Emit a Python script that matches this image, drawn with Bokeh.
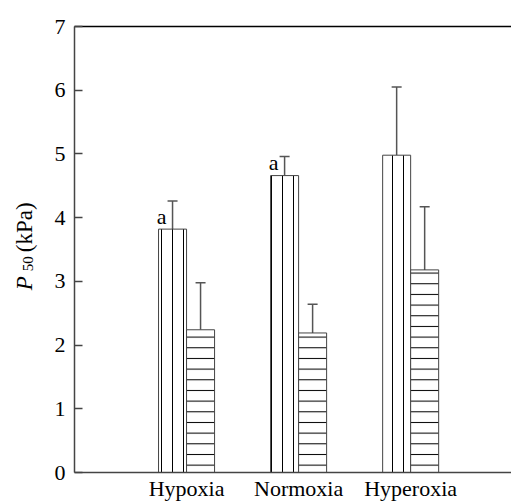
import numpy as np
from bokeh.plotting import figure
from bokeh.layouts import row
from bokeh.models import (ColumnDataSource, Range1d, FixedTicker, LinearAxis,
                          Whisker, TeeHead)
from bokeh.core.properties import value
from bokeh.embed import file_html
from bokeh.resources import INLINE

# ---- data ----
groups = ["Hypoxia", "Normoxia", "Hyperoxia"]
vert_vals = [3.82, 4.66, 4.98]      # vertically hatched bars
vert_err = [0.44, 0.30, 1.07]
horz_vals = [2.24, 2.19, 3.18]      # horizontally hatched bars
horz_err = [0.74, 0.45, 0.99]
sig_labels = ["a", "a", ""]
y_ticks = [0, 1, 2, 3, 4, 5, 6, 7]
y_title = ["P", "50", "(kPa)"]

FONT = "Liberation Serif"
pos = np.arange(1, len(groups) + 1)
bw = 0.25

src_v = ColumnDataSource(dict(
    left=pos - bw, right=pos, top=vert_vals, x=pos - bw / 2,
    upper=np.array(vert_vals) + np.array(vert_err), lower=vert_vals,
    lab=sig_labels))
src_h = ColumnDataSource(dict(
    left=pos, right=pos + bw, top=horz_vals, x=pos + bw / 2,
    upper=np.array(horz_vals) + np.array(horz_err), lower=horz_vals))

# ---- narrow panel carrying the y-axis title (pixel coordinates) ----
LW = 45
t = figure(width=LW, height=503, output_backend="svg", toolbar_location=None,
           x_range=Range1d(0, LW), y_range=Range1d(503, 0),
           x_axis_location=None, y_axis_location=None,
           min_border=0)
t.outline_line_color = None
t.grid.visible = False
t.border_fill_color = "white"
t.background_fill_color = "white"
BX = 30.7
t.text(x=[BX], y=[297.5], text=[y_title[0]], angle=np.pi / 2,
       x_offset=-7, text_font=value(FONT), text_font_style="italic",
       text_font_size=value("23px"), text_baseline="alphabetic",
       text_align="left", text_color="black")
t.text(x=[BX + 1], y=[276], text=[y_title[1]], angle=np.pi / 2,
       x_offset=-4.5, text_font=value(FONT),
       text_font_size=value("15px"), text_baseline="alphabetic",
       text_align="left", text_color="black")
t.text(x=[BX], y=[254.5], text=[y_title[2]], angle=np.pi / 2,
       x_offset=-7, text_font=value(FONT),
       text_font_size=value("23px"), text_baseline="alphabetic",
       text_align="left", text_color="black")

# ---- main chart ----
p = figure(width=511 - LW, height=503, output_backend="svg",
           toolbar_location=None,
           x_range=Range1d(0, 3.9), y_range=Range1d(0, 7),
           min_border_left=74 - LW, min_border_right=0, min_border_top=26,
           min_border_bottom=30)
p.outline_line_color = None
p.grid.visible = False
p.background_fill_color = "white"
p.border_fill_color = "white"

p.quad(left="left", right="right", bottom=0, top="top", source=src_v,
       fill_color="white", line_color="#444444", line_width=1,
       hatch_pattern="vertical_line", hatch_scale=11, hatch_color="black",
       hatch_weight=1)
p.quad(left="left", right="right", bottom=0, top="top", source=src_h,
       fill_color="white", line_color="#444444", line_width=1,
       hatch_pattern="horizontal_line", hatch_scale=10.67, hatch_color="black",
       hatch_weight=1)

for src in (src_v, src_h):
    w = Whisker(source=src, base="x", upper="upper", lower="lower",
                line_color="#555555", line_width=1.5,
                upper_head=TeeHead(size=10, line_color="#555555", line_width=1.5),
                lower_head=None)
    p.add_layout(w)

p.text(x="x", y="top", text="lab", source=src_v, text_align="right",
       text_baseline="alphabetic", x_offset=-6, y_offset=-13,
       text_font=value(FONT), text_font_size=value("22px"), text_color="black")

# axes
yax = p.yaxis[0]
yax.ticker = FixedTicker(ticks=y_ticks)
yax.major_tick_in = 8
yax.major_tick_out = 0
yax.minor_tick_line_color = None
yax.major_label_standoff = 9
yax.major_label_text_font = FONT
yax.major_label_text_font_size = "22px"
yax.major_label_text_color = "black"
yax.axis_line_color = "#444444"
yax.axis_line_width = 1.5
yax.major_tick_line_color = "#444444"
yax.major_tick_line_width = 1.5

xax = p.xaxis[0]
xax.ticker = FixedTicker(ticks=list(pos))
xax.major_label_overrides = {int(k): g for k, g in zip(pos, groups)}
xax.major_tick_in = 0
xax.major_tick_out = 0
xax.minor_tick_line_color = None
xax.major_label_standoff = 3
xax.major_label_text_font = FONT
xax.major_label_text_font_size = "22px"
xax.major_label_text_color = "black"
xax.axis_line_color = "#444444"
xax.axis_line_width = 1.5

top_ax = LinearAxis(ticker=FixedTicker(ticks=[]), major_tick_in=0,
                    major_tick_out=0, minor_tick_line_color=None,
                    major_label_text_font_size="0px", axis_line_color="black",
                    axis_line_width=1.5)
p.add_layout(top_ax, "above")

layout = row(t, p, spacing=0)
open("out.html", "w").write(file_html(layout, INLINE))
